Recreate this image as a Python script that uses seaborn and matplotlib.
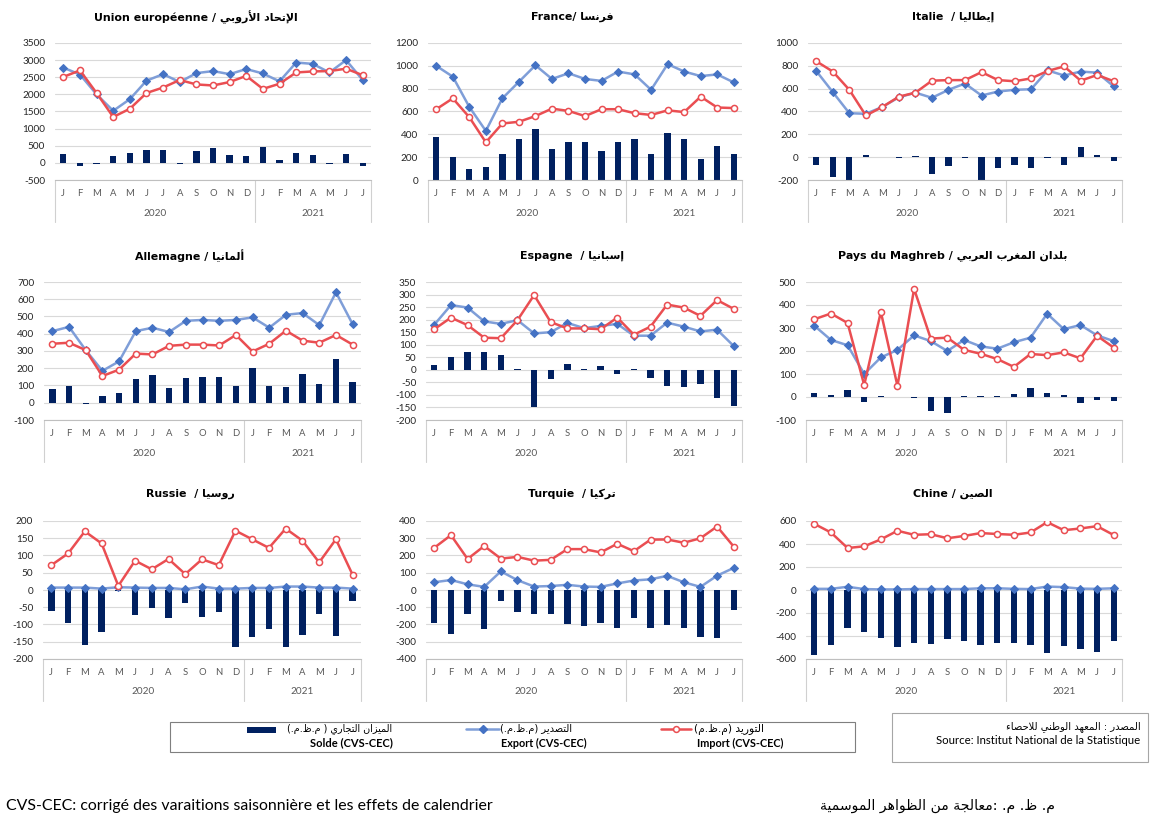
import numpy as np
import pandas as pd
import matplotlib
matplotlib.use("Agg")
import matplotlib.pyplot as plt
import seaborn as sns
from matplotlib.transforms import blended_transform_factory
from matplotlib.patches import Rectangle
from matplotlib.lines import Line2D

# ---------------- data ----------------
months = ['J', 'F', 'M', 'A', 'M', 'J', 'J', 'A', 'S', 'O', 'N', 'D',
          'J', 'F', 'M', 'A', 'M', 'J', 'J']
years = ['2020', '2021']

eu_export = [2780, 2580, 2000, 1520, 1860, 2400, 2590, 2360, 2620, 2680, 2590, 2740, 2610, 2380, 2930, 2890, 2640, 3000, 2420]
eu_import = [2510, 2700, 2040, 1340, 1580, 2040, 2200, 2420, 2290, 2260, 2360, 2540, 2160, 2310, 2640, 2670, 2680, 2750, 2560]
eu_solde = [270, -90, -20, 210, 300, 370, 370, -20, 340, 420, 230, 210, 460, 70, 300, 240, -20, 270, -90]

fr_export = [1000, 905, 640, 430, 715, 860, 1005, 885, 935, 885, 868, 950, 925, 790, 1015, 950, 910, 925, 855]
fr_import = [620, 715, 550, 330, 495, 510, 560, 625, 605, 560, 620, 620, 585, 570, 610, 595, 730, 635, 630]
fr_solde = [380, 200, 100, 115, 230, 355, 445, 270, 335, 335, 250, 335, 355, 230, 415, 360, 180, 295, 230]

it_export = [755, 570, 385, 380, 440, 525, 565, 520, 590, 645, 540, 575, 590, 595, 760, 715, 750, 740, 620]
it_import = [840, 750, 590, 365, 440, 530, 565, 670, 675, 675, 745, 675, 665, 690, 755, 795, 670, 720, 665]
it_solde = [-70, -175, -200, 20, -2, -5, 10, -150, -78, -5, -200, -98, -68, -98, -5, -70, 88, 20, -35]

de_export = [415, 440, 305, 185, 240, 415, 435, 410, 475, 480, 475, 480, 495, 435, 510, 520, 450, 640, 455]
de_import = [342, 348, 305, 155, 192, 285, 280, 330, 337, 337, 332, 393, 297, 342, 418, 360, 348, 393, 337]
de_solde = [77, 95, -8, 40, 55, 135, 160, 85, 142, 147, 147, 95, 202, 95, 90, 166, 110, 252, 122]

es_export = [180, 258, 248, 193, 183, 198, 145, 150, 187, 166, 175, 183, 136, 136, 188, 172, 153, 160, 95]
es_import = [162, 208, 178, 128, 126, 198, 298, 190, 165, 165, 162, 208, 140, 172, 260, 248, 215, 278, 243]
es_solde = [18, 52, 70, 70, 60, 2, -150, -36, 25, 4, 16, -18, 3, -31, -63, -70, -58, -113, -145]

ma_export = [310, 248, 225, 100, 172, 205, 268, 243, 200, 248, 220, 210, 238, 258, 362, 295, 313, 268, 243]
ma_import = [338, 363, 322, 52, 370, 48, 470, 254, 258, 205, 188, 165, 131, 187, 182, 194, 168, 266, 215]
ma_solde = [18, 8, 30, -20, 4, 2, -5, -60, -68, 5, 5, 5, 14, 38, 18, 8, -25, -15, -17]

ru_export = [7, 7, 7, 4, 8, 7, 6, 6, 2, 10, 4, 4, 6, 6, 10, 10, 7, 7, 4]
ru_import = [72, 106, 170, 135, 12, 85, 60, 90, 46, 89, 72, 172, 147, 122, 178, 143, 80, 147, 44]
ru_solde = [-60, -95, -158, -123, -2, -73, -51, -82, -38, -77, -63, -165, -137, -114, -165, -130, -70, -134, -32]

tr_export = [45, 58, 33, 18, 108, 57, 20, 23, 30, 20, 18, 38, 55, 62, 82, 45, 18, 83, 128]
tr_import = [245, 318, 180, 255, 182, 192, 170, 175, 237, 237, 218, 268, 225, 292, 293, 274, 300, 368, 252]
tr_solde = [-192, -255, -141, -228, -64, -127, -140, -140, -199, -210, -190, -223, -160, -223, -205, -223, -273, -278, -115]

cn_export = [10, 10, 28, 8, 5, 5, 8, 8, 8, 8, 15, 15, 10, 8, 30, 25, 12, 10, 15]
cn_import = [575, 500, 365, 380, 440, 515, 480, 485, 450, 470, 495, 487, 480, 500, 590, 520, 535, 555, 478]
cn_solde = [-562, -476, -327, -362, -420, -496, -457, -468, -429, -447, -478, -457, -457, -476, -551, -488, -516, -541, -444]

titles_fr = ['Union européenne / ', 'France/ ', 'Italie  / ', 'Allemagne / ', 'Espagne  / ',
             'Pays du Maghreb / ', 'Russie  / ', 'Turquie  / ', 'Chine / ']
titles_ar = ['الإتحاد الأروبي', 'فرنسا', 'إيطاليا', 'ألمانيا', 'إسبانيا',
             'بلدان المغرب العربي', 'روسيا', 'تركيا', 'الصين']

legend_ar = ['الميزان التجاري ( م.ظ.م.)', 'التصدير (م.ظ.م.)', 'التوريد (م.ظ.م)']
legend_fr = ['Solde (CVS-CEC)', 'Export (CVS-CEC)', 'Import (CVS-CEC)']
source_ar = 'المصدر : المعهد الوطني للاحصاء'
source_fr = 'Source: Institut National de la Statistique'
note_fr = 'CVS-CEC: corrigé des varaitions saisonnière et les effets de calendrier'
note_ar = 'م. ظ. م. :معالجة من الظواهر الموسمية'

# ---------------- minimal Arabic shaping (presentation forms + visual order) ----------------
_AR_TABLE = [
    (0x0621, 0xFE80, 1), (0x0622, 0xFE81, 2), (0x0623, 0xFE83, 2), (0x0624, 0xFE85, 2),
    (0x0625, 0xFE87, 2), (0x0626, 0xFE89, 4), (0x0627, 0xFE8D, 2), (0x0628, 0xFE8F, 4),
    (0x0629, 0xFE93, 2), (0x062A, 0xFE95, 4), (0x062B, 0xFE99, 4), (0x062C, 0xFE9D, 4),
    (0x062D, 0xFEA1, 4), (0x062E, 0xFEA5, 4), (0x062F, 0xFEA9, 2), (0x0630, 0xFEAB, 2),
    (0x0631, 0xFEAD, 2), (0x0632, 0xFEAF, 2), (0x0633, 0xFEB1, 4), (0x0634, 0xFEB5, 4),
    (0x0635, 0xFEB9, 4), (0x0636, 0xFEBD, 4), (0x0637, 0xFEC1, 4), (0x0638, 0xFEC5, 4),
    (0x0639, 0xFEC9, 4), (0x063A, 0xFECD, 4), (0x0641, 0xFED1, 4), (0x0642, 0xFED5, 4),
    (0x0643, 0xFED9, 4), (0x0644, 0xFEDD, 4), (0x0645, 0xFEE1, 4), (0x0646, 0xFEE5, 4),
    (0x0647, 0xFEE9, 4), (0x0648, 0xFEED, 2), (0x0649, 0xFEEF, 2), (0x064A, 0xFEF1, 4),
]
_FORMS = {chr(c): (b, n) for c, b, n in _AR_TABLE}
_LAMALEF = {'\u0622': 0xFEF5, '\u0623': 0xFEF7, '\u0625': 0xFEF9, '\u0627': 0xFEFB}


def _joins_next(c):
    return c in _FORMS and _FORMS[c][1] == 4


def _joinable(c):
    return c in _FORMS and _FORMS[c][1] >= 2


def ar(s):
    out = []
    i = 0
    n = len(s)
    while i < n:
        c = s[i]
        if c not in _FORMS:
            out.append(c)
            i += 1
            continue
        prev = s[i - 1] if i > 0 else ''
        pj = _joins_next(prev)
        nxt = s[i + 1] if i + 1 < n else ''
        if c == '\u0644' and nxt in _LAMALEF:
            out.append(chr(_LAMALEF[nxt] + (1 if pj else 0)))
            i += 2
            continue
        base, cnt = _FORMS[c]
        if cnt == 1:
            out.append(chr(base))
            i += 1
            continue
        nj = _joins_next(c) and _joinable(nxt)
        if pj and nj:
            idx = 3
        elif pj:
            idx = 1
        elif nj:
            idx = 2
        else:
            idx = 0
        out.append(chr(base + idx))
        i += 1
    vis = ''.join(reversed(out))
    return vis.translate(str.maketrans('()', ')('))


# ---------------- style ----------------
sns.set_theme(style='white')
plt.rcParams['font.family'] = ['Lato', 'DejaVu Sans']
plt.rcParams['axes.unicode_minus'] = False

W, H = 1163, 830
NAVY = '#002060'
EXP_LINE = '#7F9ED8'
EXP_MK = '#4472C4'
IMP = '#EA4E52'
GRID = '#D9D9D9'

# layout: plot box in pixels (left, right, top, bottom), title centre x / y, y scale
layout = [
    dict(box=(55, 371, 43, 180), tx=196, ty=17, ylim=(-500, 3500), step=500),
    dict(box=(428, 742, 43, 180), tx=572, ty=17, ylim=(0, 1200), step=200),
    dict(box=(808, 1122, 43, 180), tx=953, ty=17, ylim=(-200, 1000), step=200),
    dict(box=(44, 361, 282, 420), tx=190, ty=256, ylim=(-100, 700), step=100),
    dict(box=(426, 742, 282, 420), tx=572, ty=256, ylim=(-200, 350), step=50),
    dict(box=(806, 1122, 282, 420), tx=953, ty=256, ylim=(-100, 500), step=100),
    dict(box=(43, 361, 521, 659), tx=190, ty=494, ylim=(-200, 200), step=50),
    dict(box=(426, 742, 521, 659), tx=572, ty=494, ylim=(-400, 400), step=100),
    dict(box=(806, 1122, 521, 659), tx=953, ty=494, ylim=(-600, 600), step=200),
]
series = [
    (eu_export, eu_import, eu_solde), (fr_export, fr_import, fr_solde),
    (it_export, it_import, it_solde), (de_export, de_import, de_solde),
    (es_export, es_import, es_solde), (ma_export, ma_import, ma_solde),
    (ru_export, ru_import, ru_solde), (tr_export, tr_import, tr_solde),
    (cn_export, cn_import, cn_solde),
]

fig = plt.figure(figsize=(W / 100, H / 100), dpi=100)
fig.patch.set_facecolor('white')

PX = 0.72  # points per pixel at dpi 100

for k, (lay, (exp_, imp_, sol_)) in enumerate(zip(layout, series)):
    l, r, t, b = lay['box']
    ax = fig.add_axes([l / W, 1 - b / H, (r - l) / W, (b - t) / H])
    df = pd.DataFrame({'pos': np.arange(len(months)), 'month': months,
                       'Export': exp_, 'Import': imp_, 'Solde': sol_})
    sns.barplot(data=df, x='pos', y='Solde', native_scale=True, width=0.38,
                color=NAVY, saturation=1, ax=ax, zorder=2, linewidth=0)
    sns.lineplot(data=df, x='pos', y='Export', ax=ax, color=EXP_LINE, lw=1.8,
                 marker='D', markersize=3.8, markerfacecolor=EXP_MK,
                 markeredgecolor=EXP_MK, zorder=3)
    sns.lineplot(data=df, x='pos', y='Import', ax=ax, color=IMP, lw=1.8,
                 marker='o', markersize=4.4, markerfacecolor='white',
                 markeredgecolor=IMP, markeredgewidth=1.1, zorder=4)
    y0, y1 = lay['ylim']
    ax.set_xlim(-0.5, len(months) - 0.5)
    ax.set_ylim(y0, y1)
    ax.set_yticks(np.arange(y0, y1 + lay['step'] / 2, lay['step']))
    ax.set_xticks([])
    ax.set_xlabel('')
    ax.set_ylabel('')
    ax.grid(axis='y', color=GRID, lw=0.8)
    ax.grid(axis='x', visible=False)
    ax.set_axisbelow(True)
    for s in ['top', 'right', 'left']:
        ax.spines[s].set_visible(False)
    ax.spines['bottom'].set_color('#BFBFBF')
    ax.spines['bottom'].set_linewidth(0.8)
    ax.tick_params(axis='y', length=0, pad=7, labelsize=7.2, labelcolor='#262626')
    for lab in ax.get_yticklabels():
        lab.set_family(['Lato', 'DejaVu Sans'])

    hpx = b - t
    for i, m in enumerate(months):
        ax.annotate(m, xy=(i, 0), xycoords=('data', 'axes fraction'),
                    xytext=(0, -13.5 * PX), textcoords='offset points',
                    ha='center', va='center', fontsize=6.8, color='#595959')
    ax.annotate(years[0], xy=(5.5, 0), xycoords=('data', 'axes fraction'),
                xytext=(0, -33 * PX), textcoords='offset points',
                ha='center', va='center', fontsize=7.2, color='#595959')
    ax.annotate(years[1], xy=(15, 0), xycoords=('data', 'axes fraction'),
                xytext=(0, -33 * PX), textcoords='offset points',
                ha='center', va='center', fontsize=7.2, color='#595959')
    tr = blended_transform_factory(ax.transData, ax.transAxes)
    for xs in (-0.5, 11.5, len(months) - 0.5):
        ax.plot([xs, xs], [0, -42 / hpx], transform=tr, clip_on=False,
                color='#D0D0D0', lw=0.8)

    fig.text(lay['tx'] / W, 1 - lay['ty'] / H, titles_fr[k] + ar(titles_ar[k]),
             ha='center', va='center', fontsize=7.9, fontweight='bold',
             family=['DejaVu Sans'], color='black')

# ---------------- overlay (legend, source, notes) in pixel coordinates ----------------
ov = fig.add_axes([0, 0, 1, 1])
ov.set_xlim(0, W)
ov.set_ylim(H, 0)
ov.axis('off')
renderer = fig.canvas.get_renderer()


def fit_text(x, y, s, width, size, ha='left', **kw):
    t = ov.text(x, y, s, fontsize=size, ha=ha, va='center', **kw)
    w = t.get_window_extent(renderer).width
    if w > 0:
        t.set_fontsize(size * width / w)
    return t


ov.add_patch(Rectangle((170, 722), 685, 30, fill=False, ec='#7F7F7F', lw=0.8))
ov.add_patch(Rectangle((247, 727), 29, 6, fc=NAVY, ec='none'))
ov.add_line(Line2D([466, 499], [729, 729], color=EXP_LINE, lw=1.8))
ov.add_line(Line2D([482.5], [729], marker='D', markersize=3.6, color=EXP_MK, lw=0))
ov.add_line(Line2D([661, 691], [729, 729], color=IMP, lw=1.8))
ov.add_line(Line2D([676], [729], marker='o', markersize=4.2, mfc='white', mec=IMP,
                   mew=1.1, lw=0))

fit_text(287, 729, ar(legend_ar[0]), 106, 7, family=['DejaVu Sans'], color='black')
fit_text(310, 743, legend_fr[0], 83, 8, fontweight='bold', family=['Lato'], color='black')
fit_text(500, 729, ar(legend_ar[1]), 72, 7, family=['DejaVu Sans'], color='black')
fit_text(501, 743, legend_fr[1], 85, 8, fontweight='bold', family=['Lato'], color='black')
fit_text(694, 729, ar(legend_ar[2]), 70, 7, family=['DejaVu Sans'], color='black')
fit_text(697, 743, legend_fr[2], 87, 8, fontweight='bold', family=['Lato'], color='black')

ov.add_patch(Rectangle((892, 713), 256, 49, fill=False, ec='#A6A6A6', lw=0.8))
fit_text(1141, 727, ar(source_ar), 134, 7, ha='right', family=['DejaVu Sans'], color='black')
fit_text(1140, 740, source_fr, 205, 8, ha='right', family=['Lato'], color='black')

fit_text(6, 806, note_fr, 486, 10, family=['Lato'], color='black')
fit_text(820, 806, ar(note_ar), 232, 10, family=['DejaVu Sans'], color='black')

fig.savefig('out.png', dpi=100, facecolor='white')
